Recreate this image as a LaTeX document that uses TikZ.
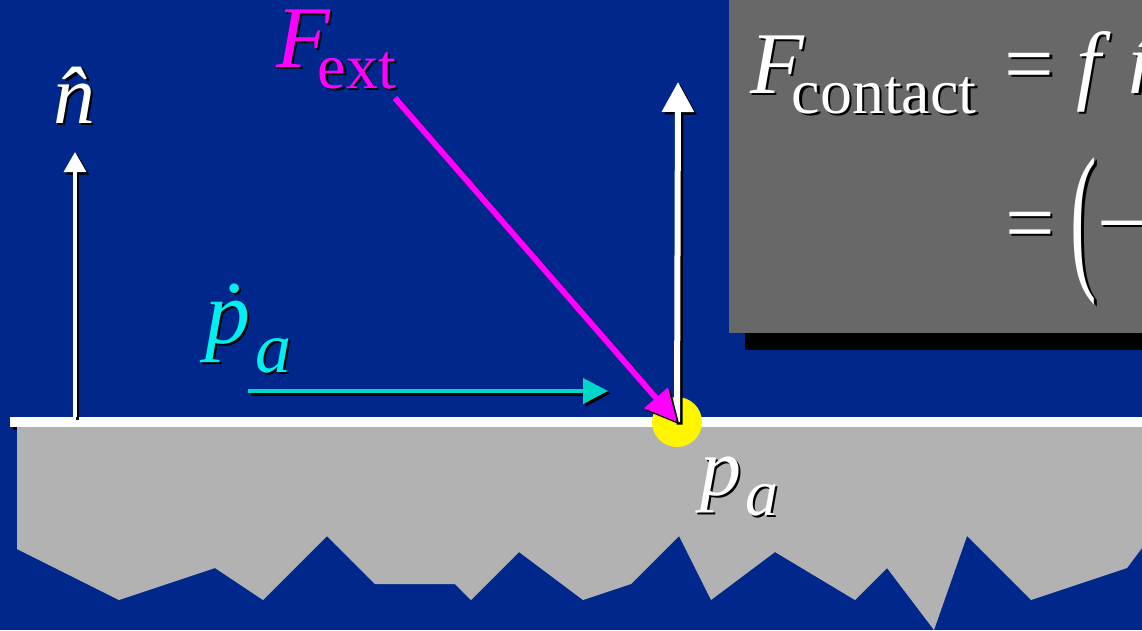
\documentclass[tikz,border=0pt]{standalone}
\usepackage{fontspec}
\setmainfont{Liberation Serif}
\usetikzlibrary{arrows.meta}
\definecolor{bgblue}{RGB}{0,40,140}
\definecolor{groundgray}{RGB}{178,178,178}
\definecolor{boxgray}{RGB}{104,104,104}
\definecolor{mag}{RGB}{255,0,255}
\definecolor{cyantext}{RGB}{0,240,240}
\definecolor{cyanarrow}{RGB}{0,215,200}
\definecolor{dotyellow}{RGB}{255,245,0}
\newcommand{\shd}[1]{\leavevmode\rlap{\kern2.5pt\raisebox{-2.5pt}{\color{black}#1}}{#1}}
\newcommand{\fsz}[1]{\fontsize{#1}{#1}\selectfont}
\begin{document}
\begin{tikzpicture}[x=1pt,y=-1pt,
  lbl/.style={inner sep=0pt, outer sep=0pt, anchor=base west},
  shadowed/.style={transform canvas={shift={(2.5,2.5)}}, black},
  thinup/.style={line width=3.5pt, -{Triangle[length=20pt,width=22pt]}},
  thickup/.style={line width=6pt, -{Triangle[length=30pt,width=31pt]}},
  forcearrow/.style={line width=6pt, -{Triangle[length=32pt,width=30pt]}},
  velarrow/.style={line width=4pt, -{Triangle[length=25pt,width=25pt]}}]
\useasboundingbox (0,0) rectangle (1142,630);
\clip (0,0) rectangle (1142,630);
\fill[bgblue] (0,0) rectangle (1142,630);
% formula box
\fill[black] (745,16) rectangle (1160,350);
\fill[boxgray] (729,-5) rectangle (1160,333);
% ground
\fill[black] (13,420) rectangle (1160,430);
\fill[white] (10,417) rectangle (1160,427);
\fill[groundgray] (17,427) -- (1160,427) -- (1142,548) -- (1127,568) -- (1031,600)
  -- (967,536) -- (934,630) -- (887,568) -- (855,600) -- (775,552) -- (711,600)
  -- (679,536) -- (631,584) -- (583,600) -- (519,552) -- (471,600) -- (455,584)
  -- (375,584) -- (327,536) -- (263,600) -- (215,568) -- (119,600) -- (17,549) -- cycle;
% contact point
\node[circle, fill=dotyellow, minimum size=50pt, inner sep=0pt] (pa) at (677,422) {};
% coordinates
\coordinate (fextstart) at (395,98);
\coordinate (nlbot) at (75,417);
\coordinate (nltop) at (75,152);
\coordinate (nrtop) at (678,82);
\coordinate (vstart) at (248,391);
\coordinate (vend) at (608,391);
% arrows
\draw[thinup, shadowed] (nlbot) -- (nltop);
\draw[thinup, white] (nlbot) -- (nltop);
\draw[velarrow, shadowed] (vstart) -- (vend);
\draw[velarrow, cyanarrow] (vstart) -- (vend);
\draw[thickup, shadowed] (pa.center) -- (nrtop);
\draw[thickup, white] (pa.center) -- (nrtop);
\draw[forcearrow, shadowed] (fextstart) -- (pa.center);
\draw[forcearrow, mag] (fextstart) -- (pa.center);
% labels
\node[lbl, font=\fsz{88}, text=mag] (fext) at (276,67)
  {\shd{\itshape F}\kern-12pt\raisebox{-21pt}{\shd{\fsz{64}ext}}};
\node[lbl, font=\fsz{84}, text=white] (nhat) at (53,123) {\shd{\itshape n̂}};
\node[lbl, font=\fsz{90}, text=cyantext] (pdot) at (205,343)
  {\shd{\itshape ṗ}\kern5pt\raisebox{-29pt}{\shd{\fsz{72}\itshape a}}};
\node[lbl, font=\fsz{82}, text=white] (palbl) at (700,495)
  {\shd{\itshape p}\kern4pt\raisebox{-20pt}{\shd{\fsz{66}\itshape a}}};
\node[lbl, font=\fsz{88}, text=white] (fcontact) at (750,93)
  {\shd{\itshape F}\kern-12pt\raisebox{-20pt}{\shd{\fsz{64}contact}}\kern6pt\ \shd{=}\ \shd{\itshape f}\kern6pt\ \shd{\itshape n̂}};
\node[lbl, font=\fsz{88}, text=white] (fline2) at (1005,252)
  {\shd{=}\kern16pt\raisebox{-18pt}{\shd{\scalebox{0.9}[1.85]{(}}}\shd{−}};
\end{tikzpicture}
\end{document}
